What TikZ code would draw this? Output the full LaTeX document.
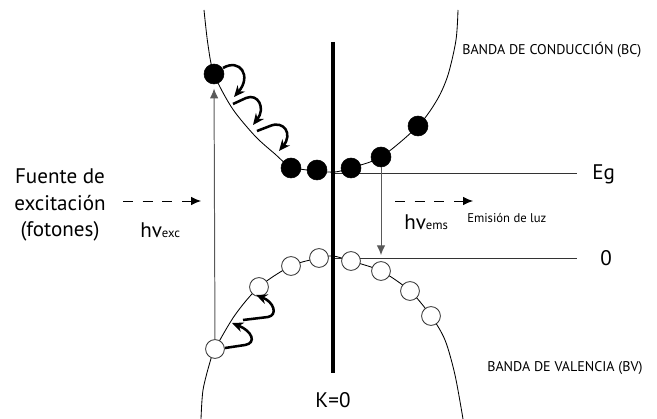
\documentclass[tikz,border=0pt]{standalone}
\usepackage{fontspec}
\setmainfont{PT Sans}
\usetikzlibrary{arrows.meta}

\begin{document}
\begin{tikzpicture}[x=0.025cm, y=-0.025cm,
	electron/.style={circle, fill=black, draw=black, inner sep=0pt, minimum size=0.5cm},
	hole/.style={circle, fill=white, draw=black!80, line width=0.6pt, inner sep=0pt, minimum size=0.47cm},
	band/.style={line width=0.6pt},
	level/.style={line width=0.7pt, black!80},
	relax/.style={line width=1.8pt, -{Stealth[length=8pt, width=7pt]}},
	photon/.style={line width=0.7pt, dash pattern=on 7pt off 7pt, -{Latex[length=7pt, width=6pt]}},
	transition/.style={line width=0.7pt, black!65, -{Latex[length=7pt, width=6pt]}},
	big/.style={font=\fontsize{15}{19}\selectfont},
	small/.style={font=\fontsize{10}{12}\selectfont},
	tiny/.style={font=\fontsize{9}{11}\selectfont}]
	\useasboundingbox (0,0) rectangle (657,419);

	% bands
	\draw[band] plot[smooth] coordinates {(204,10) (208,45) (214,74) (232,108) (255,136) (275,154) (291,167) (317,171) (335,172) (350,168) (381,157) (418,126) (437,100) (448,75) (456,40) (458,10)};
	\draw[band] plot[smooth] coordinates {(201,419) (203,390) (210,362) (215,349) (235,315) (259,287) (291,266) (319,258) (333,256) (351,261) (381,271) (410,291) (431,316) (445,340) (455,375) (463,419)};

	% levels
	\coordinate (eg1) at (333,173);
	\coordinate (eg2) at (577,173);
	\coordinate (o1) at (333,258);
	\coordinate (o2) at (577,258);
	\draw[level] (eg1) -- (eg2);
	\draw[level] (o1) -- (o2);

	% k = 0
	\coordinate (ktop) at (333,42);
	\coordinate (kbot) at (333,373);
	\draw[line width=2.8pt] (ktop) -- (kbot);

	% electrons
	\node[electron] (e1) at (214,74) {};
	\node[electron] (e2) at (291,168) {};
	\node[electron] (e3) at (317,170) {};
	\node[electron] (e4) at (351,168) {};
	\node[electron] (e5) at (381,157) {};
	\node[electron] (e6) at (418,126) {};

	% holes
	\node[hole] (h1) at (215,349) {};
	\node[hole] (h2) at (259,287) {};
	\node[hole] (h3) at (291,266) {};
	\node[hole] (h4) at (319,258) {};
	\node[hole] (h5) at (351,261) {};
	\node[hole] (h6) at (381,271) {};
	\node[hole] (h7) at (410,291) {};
	\node[hole] (h8) at (431,316) {};

	% transitions
	\draw[transition, shorten >=3pt] (h1) -- (e1);
	\draw[transition, shorten >=2pt] (e5) -- (e5 |- o1);

	% relaxation
	\draw[relax] (223,68) .. controls (240,58) and (252,76) .. (234,97);
	\draw[relax] (233,104) -- (246,98) .. controls (258,93) and (266,108) .. (253,125);
	\draw[relax] (257,131) -- (270,126) .. controls (284,120) and (293,134) .. (279,151);
	\draw[relax] (225,348) -- (245,345) .. controls (257,343) and (252,331) .. (232,323);
	\draw[relax] (243,320) -- (268,317) .. controls (278,315) and (274,302) .. (256,295);

	% photons
	\coordinate (p1) at (123,201);
	\coordinate (p2) at (201,201);
	\coordinate (p3) at (395,201);
	\coordinate (p4) at (473,201);
	\draw[photon] (p1) -- (p2);
	\draw[photon] (p3) -- (p4);

	% labels
	\node[big, align=center] (src) at (60,205) {Fuente de\\excitación\\(fotones)};
	\node[big, anchor=west, inner sep=0pt] (hexc) at (140,230) {hv{\fontsize{9}{10}\selectfont exc}};
	\node[big, anchor=west, inner sep=0pt] (hems) at (404,222) {hv{\fontsize{9}{10}\selectfont ems}};
	\node[tiny, anchor=west, inner sep=0pt] (luz) at (467,218) {Emisión de luz};
	\node[big, anchor=west, inner sep=0pt] (eg) at (592,174) {Eg};
	\node[big] (zero) at (606,258) {0};
	\node[big] (k0) at (333,400) {K=0};
	\node[small, anchor=west, inner sep=0pt] (bc) at (462,50) {BANDA DE CONDUCCIÓN (BC)};
	\node[small, anchor=west, inner sep=0pt] (bv) at (487,368) {BANDA DE VALENCIA (BV)};
\end{tikzpicture}
\end{document}
